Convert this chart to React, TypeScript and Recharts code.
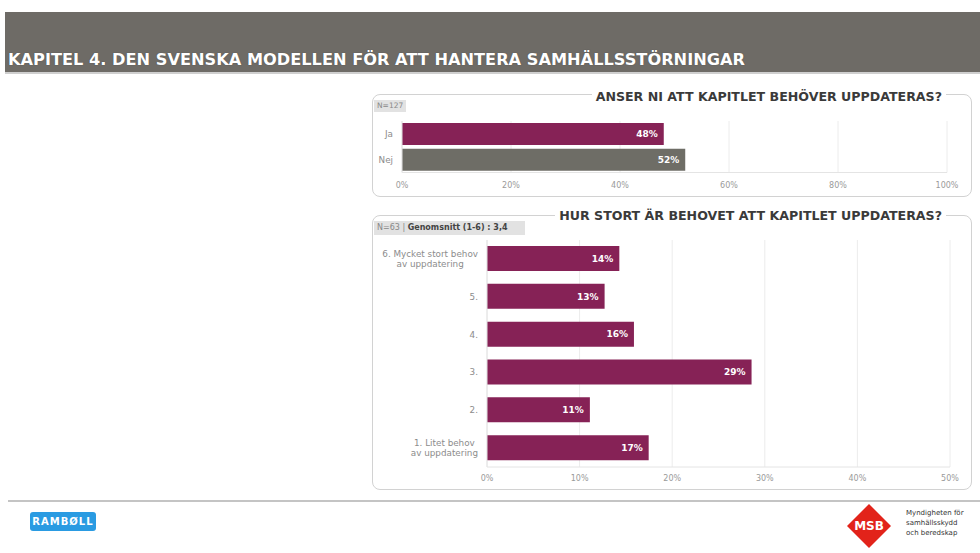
import React from "react"
import { BarChart, Bar, XAxis, YAxis, CartesianGrid, Cell, LabelList } from "recharts"

const FONT = "'DejaVu Sans', Verdana, sans-serif"
const MAROON = "#862256"
const GRAY_BAR = "#6e6d66"

// Question 1: does the chapter need updating?
const q1Answers = ["Ja", "Nej"]
const q1Values = [48.03, 51.97]
const q1Colors = [MAROON, GRAY_BAR]
const q1Ticks = [0, 20, 40, 60, 80, 100]

// Question 2: how big is the need (1-6)
const q2Answers = [
  "6. Mycket stort behov\nav uppdatering",
  "5.",
  "4.",
  "3.",
  "2.",
  "1. Litet behov\nav uppdatering",
]
const q2Values = [14.29, 12.7, 15.87, 28.57, 11.11, 17.46]
const q2Ticks = [0, 10, 20, 30, 40, 50]

const q1Data = q1Answers.map((name, i) => ({ name, value: q1Values[i] }))
const q2Data = q2Answers.map((name, i) => ({ name, value: q2Values[i] }))

let ctx: CanvasRenderingContext2D | null = null
function measure(s: string, size: number) {
  if (!ctx) ctx = document.createElement("canvas").getContext("2d")
  if (!ctx) return s.length * size * 0.55
  ctx.font = `${size}px ${FONT}`
  return ctx.measureText(s).width
}

function CategoryTick({ x, y, payload }: any) {
  const size = 8.8
  const lines = String(payload.value).split("\n")
  const block = Math.max(...lines.map((l) => measure(l, size)))
  const cx = x - block / 2
  const lh = 10.5
  const y0 = y - ((lines.length - 1) * lh) / 2
  return (
    <text textAnchor="middle" fill="#8c8c8c" fontSize={size} fontFamily={FONT}>
      {lines.map((l, i) => (
        <tspan key={i} x={cx} y={y0 + i * lh} dy="0.35em">
          {l}
        </tspan>
      ))}
    </text>
  )
}

const pct = (v: any) => `${Math.round(Number(v))}%`

const tickStyle = { fill: "#9a9a9a", fontSize: 8, fontFamily: FONT }

function Panel({ top, height }: { top: number; height: number }) {
  return (
    <div
      style={{
        position: "absolute",
        left: 372,
        top,
        width: 600,
        height,
        border: "1.5px solid #d2d2d2",
        borderRadius: 8,
        boxSizing: "border-box",
      }}
    />
  )
}

function PanelTitle({ top, text }: { top: number; text: string }) {
  return (
    <div
      style={{
        position: "absolute",
        right: 34,
        top,
        background: "#fff",
        padding: "0 4px",
        fontFamily: FONT,
        fontWeight: "bold",
        fontSize: 12.6,
        lineHeight: "15px",
        color: "#3a3a3a",
        whiteSpace: "nowrap",
      }}
    >
      {text}
    </div>
  )
}

export default function App() {
  return (
    <div
      style={{
        position: "absolute",
        left: 0,
        top: 0,
        width: 980,
        height: 553,
        background: "#fff",
        overflow: "hidden",
        fontFamily: FONT,
      }}
    >
      {/* header band */}
      <div style={{ position: "absolute", left: 5, top: 12, width: 975, height: 60, background: "#6e6b66" }} />
      <div style={{ position: "absolute", left: 5, top: 72, width: 975, height: 1.5, background: "#cfcfcf" }} />
      <div
        style={{
          position: "absolute",
          left: 8,
          top: 50,
          color: "#fff",
          fontWeight: "bold",
          fontSize: 16.2,
          lineHeight: "20px",
          whiteSpace: "nowrap",
          textShadow: "0 0 1px #444",
        }}
      >
        KAPITEL 4. DEN SVENSKA MODELLEN FÖR ATT HANTERA SAMHÄLLSSTÖRNINGAR
      </div>

      {/* panel 1 */}
      <Panel top={94} height={103} />
      <PanelTitle top={89} text="ANSER NI ATT KAPITLET BEHÖVER UPPDATERAS?" />
      <div
        style={{
          position: "absolute",
          left: 374,
          top: 100,
          padding: "1px 3px",
          background: "#e2e2e2",
          color: "#888",
          fontSize: 7.5,
          lineHeight: "10px",
        }}
      >
        N=127
      </div>
      <div style={{ position: "absolute", left: 372, top: 100 }}>
        <BarChart
          width={600}
          height={95}
          data={q1Data}
          layout="vertical"
          margin={{ top: 21, right: 25, bottom: 0, left: 0 }}
        >
          <CartesianGrid horizontal={false} stroke="#ececec" />
          <XAxis
            type="number"
            domain={[0, 100]}
            ticks={q1Ticks}
            tickFormatter={(v) => `${v}%`}
            tick={tickStyle}
            tickLine={false}
            tickMargin={4}
            axisLine={{ stroke: "#e4e4e4" }}
            height={22.5}
            interval={0}
          />
          <YAxis
            type="category"
            dataKey="name"
            width={30}
            tick={<CategoryTick />}
            tickLine={false}
            tickMargin={3}
            axisLine={{ stroke: "#e4e4e4" }}
          />
          <Bar dataKey="value" barSize={22} isAnimationActive={false}>
            {q1Data.map((d, i) => (
              <Cell key={d.name} fill={q1Colors[i]} />
            ))}
            <LabelList
              dataKey="value"
              position="insideRight"
              offset={6}
              formatter={pct}
              fill="#fff"
              fontSize={9}
              fontWeight="bold"
              fontFamily={FONT}
            />
          </Bar>
        </BarChart>
      </div>

      {/* panel 2 */}
      <Panel top={215} height={275} />
      <PanelTitle top={208} text="HUR STORT ÄR BEHOVET ATT KAPITLET UPPDATERAS?" />
      <div
        style={{
          position: "absolute",
          left: 374,
          top: 221,
          width: 151,
          height: 14,
          boxSizing: "border-box",
          padding: "2px 3px",
          background: "#e2e2e2",
          color: "#888",
          fontSize: 8,
          lineHeight: "10px",
          whiteSpace: "nowrap",
        }}
      >
        N=63 | <span style={{ color: "#444", fontWeight: "bold" }}>Genomsnitt (1-6) : 3,4</span>
      </div>
      <div style={{ position: "absolute", left: 372, top: 230 }}>
        <BarChart
          width={600}
          height={256}
          data={q2Data}
          layout="vertical"
          margin={{ top: 10, right: 22, bottom: 0, left: 0 }}
        >
          <CartesianGrid horizontal={false} stroke="#ececec" />
          <XAxis
            type="number"
            domain={[0, 50]}
            ticks={q2Ticks}
            tickFormatter={(v) => `${v}%`}
            tick={tickStyle}
            tickLine={false}
            tickMargin={2}
            axisLine={{ stroke: "#e4e4e4" }}
            height={19}
            interval={0}
          />
          <YAxis
            type="category"
            dataKey="name"
            width={115}
            tick={<CategoryTick />}
            tickLine={false}
            tickMargin={3}
            axisLine={{ stroke: "#e4e4e4" }}
          />
          <Bar dataKey="value" barSize={25} fill={MAROON} isAnimationActive={false}>
            <LabelList
              dataKey="value"
              position="insideRight"
              offset={6}
              formatter={pct}
              fill="#fff"
              fontSize={9}
              fontWeight="bold"
              fontFamily={FONT}
            />
          </Bar>
        </BarChart>
      </div>

      {/* footer */}
      <div style={{ position: "absolute", left: 8, top: 500, width: 972, height: 2, background: "#c4c4c4" }} />
      <div
        style={{
          position: "absolute",
          left: 30,
          top: 512,
          width: 66,
          height: 19,
          background: "#2a9be2",
          borderRadius: 3,
          color: "#fff",
          fontWeight: "bold",
          fontSize: 10,
          lineHeight: "19px",
          textAlign: "center",
          letterSpacing: 1,
        }}
      >
        RAMBØLL
      </div>
      <svg style={{ position: "absolute", left: 846, top: 503 }} width={46} height={46}>
        <polygon points="23,1 45,23 23,45 1,23" fill="#e2231a" />
        <text x={23} y={27} textAnchor="middle" fill="#fff" fontSize={12} fontWeight="bold" fontFamily={FONT}>
          MSB
        </text>
      </svg>
      <div
        style={{
          position: "absolute",
          left: 906,
          top: 508,
          color: "#333",
          fontSize: 7,
          lineHeight: "10px",
          whiteSpace: "pre",
        }}
      >
        {"Myndigheten för\nsamhällsskydd\noch beredskap"}
      </div>
    </div>
  )
}
